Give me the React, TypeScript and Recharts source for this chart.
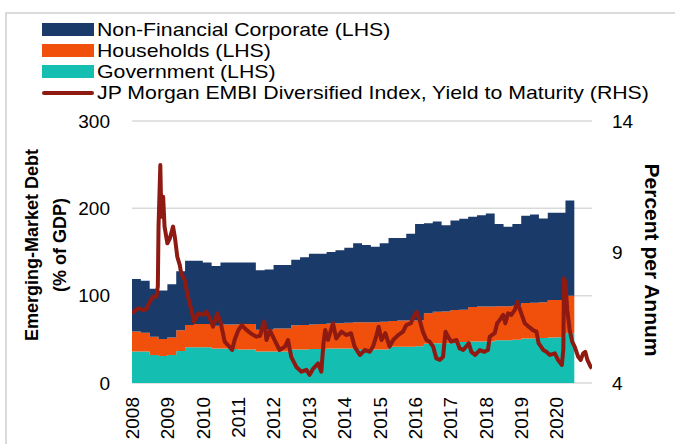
import React from 'react';
import { ComposedChart, Area, Line, XAxis, YAxis, CartesianGrid } from 'recharts';

// Emerging-market debt by sector, % of GDP (quarterly)
const quarters = [
  '2008Q1', '2008Q2', '2008Q3', '2008Q4', '2009Q1', '2009Q2', '2009Q3', '2009Q4',
  '2010Q1', '2010Q2', '2010Q3', '2010Q4', '2011Q1', '2011Q2', '2011Q3', '2011Q4',
  '2012Q1', '2012Q2', '2012Q3', '2012Q4', '2013Q1', '2013Q2', '2013Q3', '2013Q4',
  '2014Q1', '2014Q2', '2014Q3', '2014Q4', '2015Q1', '2015Q2', '2015Q3', '2015Q4',
  '2016Q1', '2016Q2', '2016Q3', '2016Q4', '2017Q1', '2017Q2', '2017Q3', '2017Q4',
  '2018Q1', '2018Q2', '2018Q3', '2018Q4', '2019Q1', '2019Q2', '2019Q3', '2019Q4',
  '2020Q1', '2020Q2',
];

const government = [
  36, 36, 32, 31, 32, 36.5, 41, 41, 41, 39.5,
  39.5, 39, 38.5, 38.5, 36, 36, 36, 36, 38.5, 38.5,
  39, 39, 39.5, 39.5, 39.5, 39, 38.5, 38.5, 38.5, 41.5,
  41.5, 41.5, 42, 45, 45.5, 45.5, 46, 47, 47.5, 47.5,
  47.5, 49, 49, 49.5, 51, 51, 51.5, 52, 52.5, 57,
];

const households = [
  23, 21.5, 21, 19.5, 20, 24, 25.5, 26.5, 26.5, 26,
  27.5, 28, 29, 29, 25, 25, 26.5, 26.5, 27.5, 28,
  28, 28.5, 28.5, 29, 29.5, 30.5, 31, 31, 31.5, 29.5,
  30, 30, 29.5, 35, 36, 36.5, 37.5, 37, 39.5, 40,
  40, 39, 39, 39, 40.5, 41, 41, 43, 42.5, 43,
];

const corporate = [
  60, 59.5, 55, 55.5, 61, 67.5, 73.5, 72.5, 70.5, 68.5,
  71, 71, 70.5, 70.5, 68, 69, 72.5, 72.5, 75, 77.5,
  81, 80.5, 82, 83.5, 86, 90.5, 88.5, 86.5, 90, 95,
  94.5, 99.5, 110.5, 103, 103.5, 98.5, 102.5, 104, 103.5, 104.5,
  106.5, 94, 91, 93.5, 100, 101, 96, 100, 100, 109,
];

// JP Morgan EMBI Diversified yield to maturity, percent (decimal year dates)
const yieldDates = [
  2008.0, 2008.17, 2008.31, 2008.4, 2008.5, 2008.59, 2008.69, 2008.73, 2008.75, 2008.8,
  2008.83, 2008.88, 2008.92, 2009.0, 2009.07, 2009.16, 2009.21, 2009.28, 2009.35, 2009.39,
  2009.49, 2009.58, 2009.68, 2009.75, 2009.87, 2010.01, 2010.1, 2010.2, 2010.29, 2010.41,
  2010.51, 2010.62, 2010.71, 2010.83, 2010.9, 2011.0, 2011.1, 2011.24, 2011.38, 2011.51,
  2011.62, 2011.71, 2011.74, 2011.8, 2011.9, 2012.03, 2012.17, 2012.32, 2012.41, 2012.5,
  2012.65, 2012.79, 2012.93, 2013.02, 2013.12, 2013.26, 2013.35, 2013.41, 2013.46, 2013.54,
  2013.68, 2013.77, 2013.92, 2014.06, 2014.19, 2014.29, 2014.44, 2014.58, 2014.72, 2014.81,
  2014.9, 2014.97, 2015.05, 2015.16, 2015.28, 2015.38, 2015.52, 2015.66, 2015.75, 2015.88,
  2015.94, 2016.04, 2016.13, 2016.22, 2016.32, 2016.41, 2016.51, 2016.6, 2016.7, 2016.79,
  2016.86, 2016.93, 2017.02, 2017.17, 2017.26, 2017.36, 2017.52, 2017.59, 2017.7, 2017.83,
  2017.95, 2018.06, 2018.11, 2018.25, 2018.32, 2018.39, 2018.49, 2018.55, 2018.63, 2018.72,
  2018.82, 2018.89, 2019.0, 2019.1, 2019.21, 2019.33, 2019.43, 2019.49, 2019.62, 2019.71,
  2019.81, 2019.95, 2020.04, 2020.15, 2020.19, 2020.21, 2020.25, 2020.3, 2020.37, 2020.44,
  2020.51, 2020.61, 2020.68, 2020.75, 2020.81, 2020.87, 2020.96, 2021.0,
];

const yieldValues = [
  6.66, 6.85, 6.79, 6.81, 7.1, 7.29, 7.29, 7.68, 9.97, 12.32,
  10.35, 11.11, 9.97, 9.33, 9.52, 9.97, 9.58, 8.82, 8.5, 8.19,
  7.93, 7.29, 6.79, 6.34, 6.66, 6.6, 6.72, 6.47, 6.15, 6.66,
  6.28, 5.58, 5.45, 5.26, 5.64, 6.0, 6.21, 6.02, 5.87, 5.77,
  5.8, 6.28, 6.34, 5.64, 6.0, 5.64, 5.26, 5.39, 5.64, 5.0,
  4.6, 4.43, 4.5, 4.31, 4.55, 4.75, 4.43, 5.5, 6.02, 5.64,
  6.28, 5.7, 5.96, 5.83, 5.9, 5.39, 5.07, 5.26, 5.19, 5.39,
  5.77, 6.15, 5.64, 5.9, 5.39, 5.64, 5.83, 5.96, 6.21, 6.28,
  6.47, 6.72, 6.4, 5.96, 5.64, 5.58, 5.39, 4.94, 4.88, 5.0,
  5.96, 5.77, 5.58, 5.64, 5.32, 5.26, 5.52, 5.19, 5.07, 5.26,
  5.19, 5.26, 5.77, 5.9, 6.28, 6.4, 6.6, 6.28, 6.66, 6.6,
  6.79, 7.1, 6.66, 6.28, 6.15, 6.02, 5.96, 5.52, 5.26, 5.19,
  5.07, 5.13, 4.88, 4.69, 5.3, 8.0, 7.81, 6.79, 6.02, 5.58,
  5.39, 5.0, 4.88, 5.13, 5.19, 4.88, 4.62, 4.56,
];

const yearTicks = [2008, 2009, 2010, 2011, 2012, 2013, 2014, 2015, 2016, 2017, 2018, 2019, 2020];
const debtTicks = [0, 100, 200, 300];
const yieldTicks = [4, 9, 14];

const FONT = "'Liberation Sans', Arial, Helvetica, sans-serif";
const NAVY = '#1a3a6a';
const ORANGE = '#f0500c';
const TEAL = '#14bfb2';
const RED = '#8e1a12';

const quarterToYear = (q: string) => Number(q.slice(0, 4)) + (Number(q.slice(5)) - 1) / 4;

const debtData = quarters.map((q, i) => ({
  x: quarterToYear(q),
  gov: government[i],
  hh: households[i],
  corp: corporate[i],
}));
// closing point so the last quarter's step gets its width
const lastIdx = quarters.length - 1;
debtData.push({
  x: quarterToYear(quarters[lastIdx]) + 0.25,
  gov: government[lastIdx],
  hh: households[lastIdx],
  corp: corporate[lastIdx],
});

const yieldData = yieldDates.map((d, i) => ({ x: d, yld: yieldValues[i] }));

const YearTick = (props: any) => {
  const { x, y, payload } = props;
  return (
    <text
      transform={`translate(${x},${y}) rotate(-90)`}
      textAnchor="end"
      dy="0.36em"
      fontSize={19}
      fontFamily={FONT}
      fill="#000"
    >
      {payload.value}
    </text>
  );
};

const LeftTitle = () => (
  <g fontFamily={FONT} fontWeight="bold" fontSize={18} fill="#000">
    <text transform="translate(32,245) rotate(-90)" textAnchor="middle" dominantBaseline="central">
      Emerging-Market Debt
    </text>
    <text transform="translate(60,245) rotate(-90)" textAnchor="middle" dominantBaseline="central">
      (% of GDP)
    </text>
  </g>
);

const RightTitle = () => (
  <text
    transform="translate(652,260) rotate(90)"
    textAnchor="middle"
    dominantBaseline="central"
    fontFamily={FONT}
    fontWeight="bold"
    fontSize={21}
    fill="#000"
  >
    Percent per Annum
  </text>
);

const legendItems = [
  { label: 'Non-Financial Corporate (LHS)', color: NAVY, kind: 'box' },
  { label: 'Households (LHS)', color: ORANGE, kind: 'box' },
  { label: 'Government (LHS)', color: TEAL, kind: 'box' },
  { label: 'JP Morgan EMBI Diversified Index, Yield to Maturity (RHS)', color: RED, kind: 'line' },
];

export default function App() {
  return (
    <div
      style={{
        position: 'absolute',
        left: 0,
        top: 0,
        width: 675,
        height: 444,
        overflow: 'hidden',
        background: '#fff',
        fontFamily: FONT,
      }}
    >
      {/* outer frame, partly cut off like the source */}
      <div
        style={{
          position: 'absolute',
          left: 5,
          top: 12,
          width: 720,
          height: 480,
          border: '2px solid #dadada',
        }}
      />

      <div style={{ position: 'absolute', left: 42, top: 19 }}>
        {legendItems.map((item) => (
          <div key={item.label} style={{ display: 'flex', alignItems: 'center', height: 21 }}>
            <div style={{ width: 52, display: 'flex', alignItems: 'center', justifyContent: 'center' }}>
              {item.kind === 'box' ? (
                <div style={{ width: 52, height: 13, background: item.color }} />
              ) : (
                <div style={{ width: 52, height: 4, borderRadius: 2, background: item.color }} />
              )}
            </div>
            <span
              style={{
                display: 'inline-block',
                marginLeft: 3,
                fontSize: 19,
                lineHeight: '21px',
                color: '#000',
                whiteSpace: 'nowrap',
                transform: 'scaleX(1.12)',
                transformOrigin: 'left center',
              }}
            >
              {item.label}
            </span>
          </div>
        ))}
      </div>

      <div style={{ position: 'absolute', left: 0, top: 0 }}>
        <ComposedChart
          width={675}
          height={444}
          data={debtData}
          margin={{ top: 121, right: 0, bottom: 0, left: 0 }}
        >
          <CartesianGrid yAxisId="debt" vertical={false} stroke="#d9d9d9" strokeWidth={1.5} />
          <XAxis
            type="number"
            dataKey="x"
            domain={[2008, 2021]}
            allowDataOverflow
            ticks={yearTicks}
            interval={0}
            tick={<YearTick />}
            tickLine={false}
            axisLine={false}
            tickMargin={8}
            height={61}
          />
          <YAxis
            yAxisId="debt"
            orientation="left"
            width={132}
            domain={[0, 300]}
            ticks={debtTicks}
            interval={0}
            tickLine={false}
            axisLine={false}
            tickMargin={16}
            tick={{ fill: '#000', fontSize: 19, fontFamily: FONT }}
            label={<LeftTitle />}
          />
          <YAxis
            yAxisId="yield"
            orientation="right"
            width={83}
            domain={[4, 14]}
            ticks={yieldTicks}
            interval={0}
            tickLine={false}
            axisLine={false}
            tickMargin={14}
            tick={{ fill: '#000', fontSize: 19, fontFamily: FONT }}
            label={<RightTitle />}
          />
          <Area
            yAxisId="debt"
            dataKey="gov"
            stackId="debt"
            type="stepAfter"
            fill={TEAL}
            fillOpacity={1}
            stroke="none"
            isAnimationActive={false}
            activeDot={false}
          />
          <Area
            yAxisId="debt"
            dataKey="hh"
            stackId="debt"
            type="stepAfter"
            fill={ORANGE}
            fillOpacity={1}
            stroke="none"
            isAnimationActive={false}
            activeDot={false}
          />
          <Area
            yAxisId="debt"
            dataKey="corp"
            stackId="debt"
            type="stepAfter"
            fill={NAVY}
            fillOpacity={1}
            stroke="none"
            isAnimationActive={false}
            activeDot={false}
          />
          <Line
            yAxisId="yield"
            data={yieldData}
            dataKey="yld"
            type="linear"
            stroke={RED}
            strokeWidth={4}
            strokeLinejoin="round"
            dot={false}
            activeDot={false}
            isAnimationActive={false}
          />
        </ComposedChart>
      </div>
    </div>
  );
}
